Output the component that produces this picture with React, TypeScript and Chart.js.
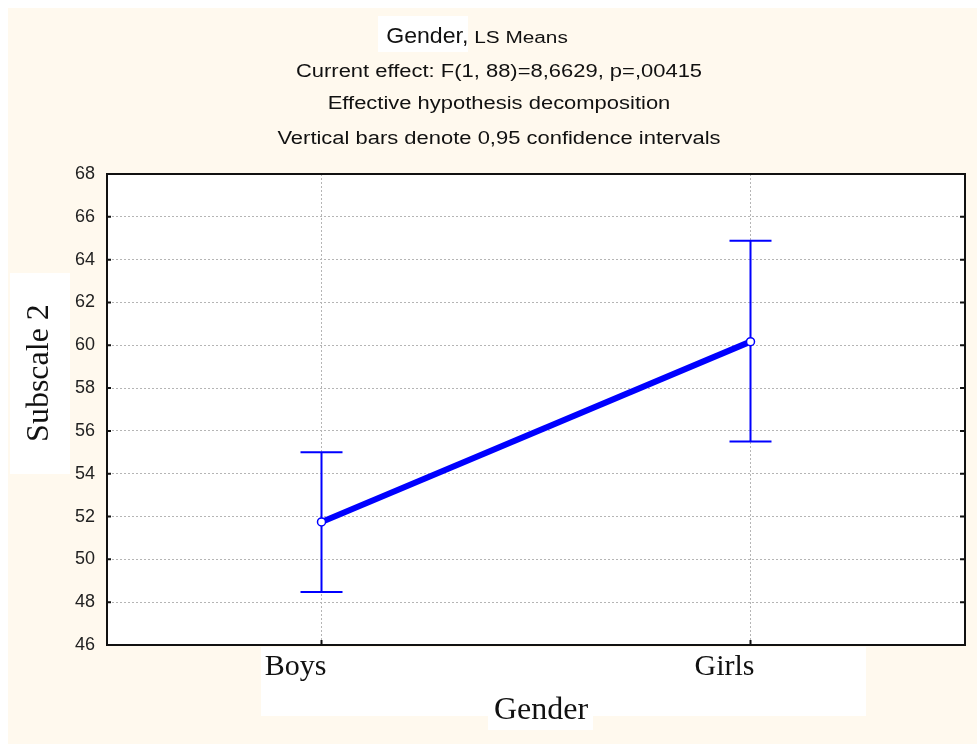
import React, { useEffect, useRef } from "react";
import { Chart, registerables } from "chart.js";

Chart.register(...registerables);

// ---- data ----
const categories = ["Boys", "Girls"];
const lsMeans = [51.75, 60.17];
const ciLower = [48.47, 55.5];
const ciUpper = [55.0, 64.88];
const yTickMin = 46;
const yTickMax = 68;
const yTickStep = 2;
const titleMain = "Gender,";
const titleTail = "LS Means";
const subtitleLines = [
  "Current effect: F(1, 88)=8,6629, p=,00415",
  "Effective hypothesis decomposition",
  "Vertical bars denote 0,95 confidence intervals",
];
const xAxisTitle = "Gender";
const yAxisTitle = "Subscale 2";

// ---- styles ----
const W = 977;
const H = 744;
const BEIGE = "#FFF9EE";
const BLUE = "#0000FF";
const INK = "#111111";
const SANS = "'Liberation Sans', Arial, sans-serif";
const SERIF = "'Liberation Serif', 'Times New Roman', serif";

function drawText(ctx: CanvasRenderingContext2D, text: string, x: number, y: number, font: string, align: CanvasTextAlign, sx = 1, rotate = 0) {
  ctx.save();
  ctx.translate(x, y);
  if (rotate) ctx.rotate(rotate);
  ctx.scale(sx, 1);
  ctx.font = font;
  ctx.fillStyle = INK;
  ctx.textAlign = align;
  ctx.textBaseline = "middle";
  ctx.fillText(text, 0, 0);
  ctx.restore();
}

const decorPlugin = {
  id: "decor",
  beforeDraw(chart: any) {
    const { ctx, chartArea: a } = chart;
    ctx.save();
    ctx.fillStyle = "#ffffff";
    ctx.fillRect(0, 0, W, H);
    ctx.fillStyle = BEIGE;
    ctx.fillRect(8, 8, W - 8, H - 8);
    ctx.fillStyle = "#ffffff";
    ctx.fillRect(a.left, a.top, a.right - a.left, a.bottom - a.top);
    ctx.fillRect(378, 16, 90, 36);
    ctx.fillRect(10, 273, 60, 201);
    ctx.fillRect(261, 647, 605, 69);
    ctx.fillRect(488, 700, 105, 30);
    ctx.restore();
  },
  beforeDatasetsDraw(chart: any) {
    const { ctx } = chart;
    const xs = chart.scales.x;
    const ys = chart.scales.y;
    ctx.save();
    ctx.strokeStyle = BLUE;
    ctx.lineWidth = 2;
    categories.forEach((_, i) => {
      const x = xs.getPixelForValue(i);
      const yl = ys.getPixelForValue(ciLower[i]);
      const yu = ys.getPixelForValue(ciUpper[i]);
      ctx.beginPath();
      ctx.moveTo(x, yl);
      ctx.lineTo(x, yu);
      ctx.moveTo(x - 21, yl);
      ctx.lineTo(x + 21, yl);
      ctx.moveTo(x - 21, yu);
      ctx.lineTo(x + 21, yu);
      ctx.stroke();
    });
    ctx.restore();
  },
  afterDraw(chart: any) {
    const { ctx, chartArea: a } = chart;
    const xs = chart.scales.x;
    const ys = chart.scales.y;
    ctx.save();
    // frame
    ctx.strokeStyle = INK;
    ctx.lineWidth = 2;
    ctx.strokeRect(a.left, a.top, a.right - a.left, a.bottom - a.top);
    // inner ticks
    ctx.beginPath();
    for (let v = yTickMin + yTickStep; v < yTickMax; v += yTickStep) {
      const y = ys.getPixelForValue(v);
      ctx.moveTo(a.left, y);
      ctx.lineTo(a.left + 4, y);
      ctx.moveTo(a.right, y);
      ctx.lineTo(a.right - 5, y);
    }
    categories.forEach((_, i) => {
      const x = xs.getPixelForValue(i);
      ctx.moveTo(x, a.bottom);
      ctx.lineTo(x, a.bottom - 5);
    });
    ctx.stroke();
    ctx.restore();

    // titles
    const mainFont = `22px ${SANS}`;
    const tailFont = `16px ${SANS}`;
    const mainSx = 1.05;
    const tailSx = 1.3;
    ctx.save();
    ctx.font = mainFont;
    const wMain = ctx.measureText(titleMain).width * mainSx;
    ctx.font = tailFont;
    const wTail = ctx.measureText(" " + titleTail).width * tailSx;
    ctx.restore();
    const tx = 477 - (wMain + wTail) / 2;
    drawText(ctx, titleMain, tx, 37, mainFont, "left", mainSx);
    drawText(ctx, " " + titleTail, tx + wMain, 39, tailFont, "left", tailSx);
    const lineY = [72, 104, 139];
    subtitleLines.forEach((t, i) => drawText(ctx, t, 499, lineY[i], `18px ${SANS}`, "center", 1.22));
    // axis titles
    drawText(ctx, xAxisTitle, 541, 711, `32px ${SERIF}`, "center");
    drawText(ctx, yAxisTitle, 40, 373, `32px ${SERIF}`, "center", 1, -Math.PI / 2);
  },
};

export default function App() {
  const ref = useRef<HTMLCanvasElement>(null);
  useEffect(() => {
    if (!ref.current) return;
    const chart = new Chart(ref.current, {
      type: "line",
      data: {
        labels: categories,
        datasets: [
          {
            data: lsMeans,
            borderColor: BLUE,
            borderWidth: 6,
            pointRadius: 4,
            pointBorderWidth: 1.5,
            pointBackgroundColor: "#ffffff",
            pointBorderColor: BLUE,
            tension: 0,
          },
        ],
      },
      options: {
        animation: false,
        responsive: false,
        devicePixelRatio: 1,
        events: [],
        layout: { padding: { top: 174, left: 0, right: 12, bottom: 0 } },
        plugins: { legend: { display: false }, tooltip: { enabled: false }, title: { display: false } },
        scales: {
          x: {
            type: "category",
            offset: true,
            grid: { display: true, offset: false, color: "#b5b5b5", lineWidth: 1, drawTicks: false },
            border: { display: true, color: INK, width: 2, dash: [2, 2] },
            ticks: { font: { family: SERIF, size: 30 }, color: INK, padding: 4, labelOffset: -26, maxRotation: 0 },
            afterFit(scale: any) { scale.height = 99; },
          },
          y: {
            min: yTickMin,
            max: yTickMax,
            grid: { display: true, color: "#b5b5b5", lineWidth: 1, drawTicks: false },
            border: { display: true, color: INK, width: 2, dash: [2, 2] },
            ticks: { stepSize: yTickStep, font: { family: SANS, size: 18 }, color: "#222222", padding: 12 },
            afterFit(scale: any) { scale.width = 107; },
          },
        },
      },
      plugins: [decorPlugin],
    });
    return () => chart.destroy();
  }, []);
  return (
    <div style={{ position: "absolute", left: 0, top: 0, width: W, height: H }}>
      <canvas ref={ref} width={W} height={H} style={{ width: W, height: H, display: "block" }} />
    </div>
  );
}
